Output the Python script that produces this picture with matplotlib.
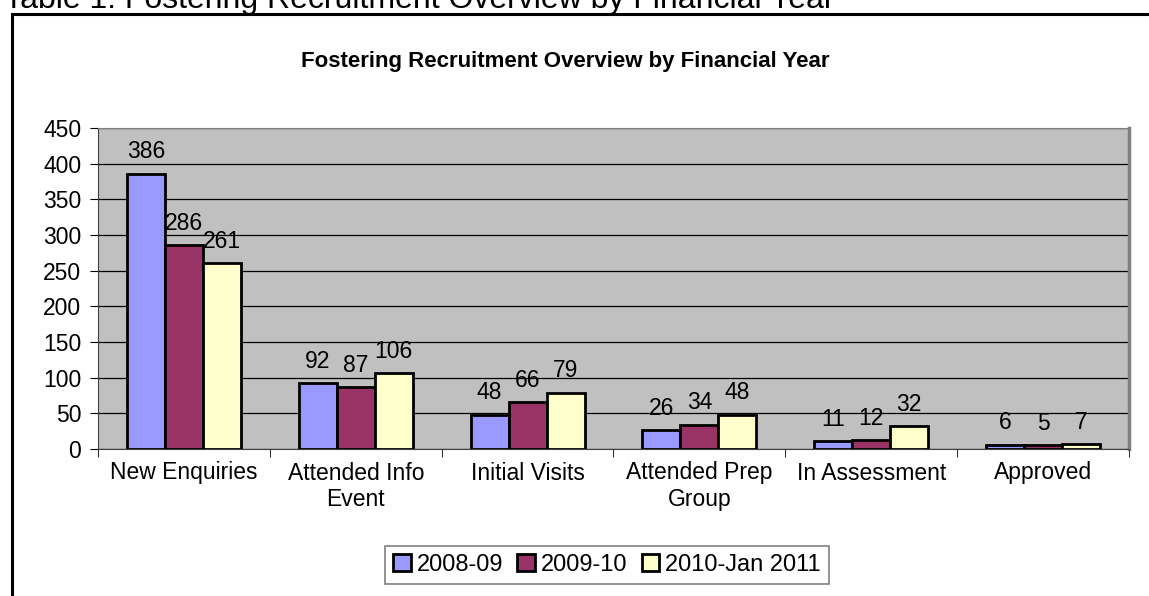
import numpy as np
import matplotlib.pyplot as plt
from matplotlib.patches import Rectangle

plt.rcParams['font.family'] = ['Liberation Sans', 'DejaVu Sans']

categories = ["New Enquiries", "Attended Info\nEvent", "Initial Visits",
              "Attended Prep\nGroup", "In Assessment", "Approved"]
series_names = ["2008-09", "2009-10", "2010-Jan 2011"]
values_0809 = [386, 92, 48, 26, 11, 6]
values_0910 = [286, 87, 66, 34, 12, 5]
values_1011 = [261, 106, 79, 48, 32, 7]
colors = ["#9999FF", "#993366", "#FFFFCC"]

W, H = 1149, 596
fig = plt.figure(figsize=(W / 100, H / 100), dpi=100)

# outer frame (only top and left edges visible in the crop)
fig.patches.append(Rectangle((12 / W, -0.2), 1.2, 1 - 14 / H + 0.2,
                             transform=fig.transFigure, fill=False,
                             edgecolor='black', linewidth=2.2))

fig.text(4 / W, 1 - 8 / H, "Table 1: Fostering Recruitment Overview by Financial Year",
         fontsize=23, ha='left', va='baseline')
fig.text(565 / W, 1 - 67 / H, "Fostering Recruitment Overview by Financial Year",
         fontsize=16, fontweight='bold', ha='center', va='baseline')

ax = fig.add_axes([98 / W, 1 - 449 / H, 1031 / W, 321 / H])
ax.set_facecolor('#C0C0C0')

x = np.arange(len(categories))
bw = 0.221
all_vals = [values_0809, values_0910, values_1011]
for i, (vals, col, name) in enumerate(zip(all_vals, colors, series_names)):
    pos = x + (i - 1) * bw
    ax.bar(pos, vals, width=bw, color=col, edgecolor='black', linewidth=2,
           label=name, zorder=3)
    for p, v in zip(pos, vals):
        ax.annotate(str(v), (p, v), xytext=(0, 11), textcoords='offset points',
                    ha='center', va='baseline', fontsize=16.5, zorder=4)

ax.set_xlim(-0.5, len(categories) - 0.5)
ax.set_ylim(0, 450)
ax.set_yticks(np.arange(0, 451, 50))
ax.yaxis.grid(True, color='black', linewidth=0.9, zorder=0)
ax.set_xticks(x)
ax.set_xticklabels(categories, fontsize=16.5)
ax.set_xticks(np.arange(-0.5, len(categories), 1), minor=True)
ax.tick_params(axis='x', which='major', length=0, pad=9)
ax.tick_params(axis='x', which='minor', length=6, color='black', direction='out')
ax.tick_params(axis='y', length=6, color='black', direction='out', labelsize=16.5, pad=6)

ax.spines['top'].set_color('#808080')
ax.spines['right'].set_color('#808080')
ax.spines['right'].set_linewidth(2.5)
ax.spines['left'].set_color('#404040')
ax.spines['bottom'].set_color('#404040')

leg = ax.legend(loc='center', bbox_to_anchor=(607 / W, 1 - 565 / H),
                bbox_transform=fig.transFigure, ncol=3, fontsize=17,
                frameon=True, fancybox=False, edgecolor='#606060',
                handlelength=0.75, handleheight=0.75, handletextpad=0.25,
                columnspacing=0.6, borderpad=0.35)
leg.get_frame().set_linewidth(1.2)

fig.savefig("out.png", dpi=100)
